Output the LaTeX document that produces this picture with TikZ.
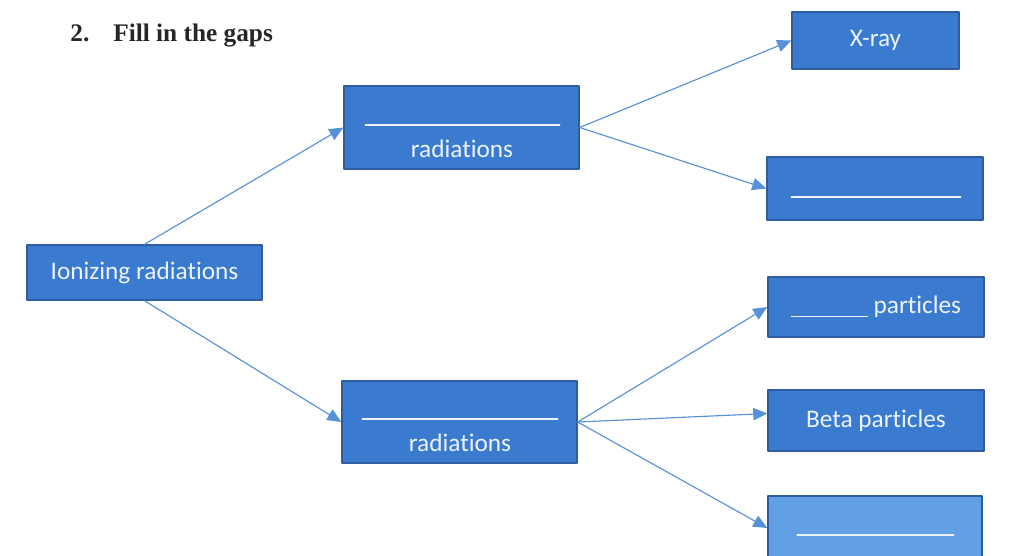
\documentclass[tikz,border=0pt]{standalone}
\usepackage{fontspec}
\setmainfont{Liberation Serif}
\newfontfamily\boxfont[Ligatures=NoCommon]{Carlito}
\usepackage{tikz}
\usetikzlibrary{arrows.meta}
\usetikzlibrary{calc}
\definecolor{boxblue}{RGB}{58,123,208}
\definecolor{boxedge}{RGB}{47,92,160}
\definecolor{paleblue}{RGB}{98,160,230}
\definecolor{arrowblue}{RGB}{86,146,218}
\definecolor{boxtext}{RGB}{236,243,252}
\tikzset{
	diagbox/.style={draw=boxedge,fill=boxblue,line width=0.8pt,text=boxtext,inner sep=0pt,
		font=\boxfont\fontsize{14.4}{17}\selectfont},
	palebox/.style={diagbox,fill=paleblue},
	boxlabel/.style={text=boxtext,inner sep=0pt,font=\boxfont\fontsize{14.4}{17}\selectfont},
	gapline/.style={draw=boxtext,line width=0.9pt},
	flow/.style={->,draw=arrowblue,line width=0.65pt}
}

\begin{document}
\begin{tikzpicture}[line cap=round,line join=round,x=0.02cm,y=-0.02cm,>={Triangle[length=8pt,width=7pt]}]
			\useasboundingbox[fill=white] (0,0) rectangle (1016,555);
			\node[anchor=base west,inner sep=0pt,text=black!85,font=\bfseries\fontsize{14.4}{17}\selectfont] (title) at (70,41) {2.\hspace{0.48cm}Fill in the gaps};
			% left and middle boxes
			\node[diagbox,minimum width=4.7cm,minimum height=1.1cm] (ion) at (144.5,272.5) {Ionizing radiations};
			\node[diagbox,minimum width=4.7cm,minimum height=1.66cm] (radA) at (461.5,127.5) {};
			\node[diagbox,minimum width=4.7cm,minimum height=1.64cm] (radB) at (459.5,422) {};
			\node[boxlabel,anchor=base] (radAlabel) at (462,157) {radiations};
			\node[boxlabel,anchor=base] (radBlabel) at (460,451) {radiations};
			\draw[gapline] ($(radA.west)+(22,-2.5)$) -- ($(radA.east)+(-20,-2.5)$);
			\draw[gapline] ($(radB.west)+(21,-3)$) -- ($(radB.east)+(-20,-3)$);
			% right boxes
			\node[diagbox,minimum width=3.34cm,minimum height=1.14cm] (xray) at (875.5,40.5) {X-ray};
			\node[diagbox,minimum width=4.32cm,minimum height=1.26cm] (gapA) at (875,188.5) {};
			\node[diagbox,minimum width=4.32cm,minimum height=1.2cm] (part) at (876,307) {\rule[-2pt]{1.54cm}{0.9pt} particles};
			\node[diagbox,minimum width=4.32cm,minimum height=1.22cm] (beta) at (876,420.5) {Beta particles};
			\node[palebox,minimum width=4.28cm,minimum height=1.28cm] (gapB) at (875,528) {};
			\draw[gapline] ($(gapA.west)+(25,8.5)$) -- ($(gapA.east)+(-23,8.5)$);
			\draw[gapline] ($(gapB.west)+(30,7)$) -- ($(gapB.east)+(-29,7)$);
			% arrows
			\draw[flow] (ion.north) -- (radA.west);
			\draw[flow] (ion.south) -- (radB.west);
			\draw[flow] (radA.east) -- (xray.west);
			\draw[flow] (radA.east) -- (gapA.west);
			\draw[flow] (radB.east) -- (part.west);
			\draw[flow] (radB.east) -- ($(beta.west)+(0,-7)$);
			\draw[flow] (radB.east) -- (gapB.west);
\end{tikzpicture}
\end{document}
